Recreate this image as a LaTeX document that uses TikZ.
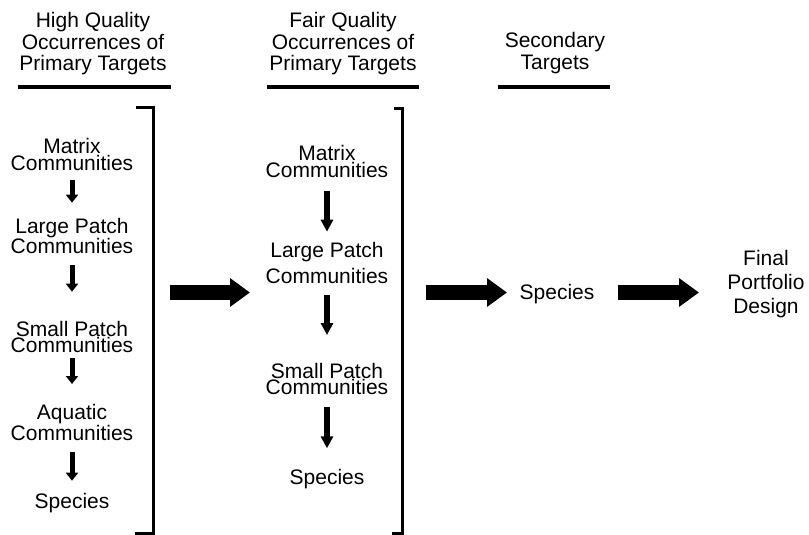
\documentclass[tikz,border=0pt]{standalone}
\usepackage{fontspec}
\setmainfont{Liberation Sans}
\usetikzlibrary{arrows.meta}
\tikzset{
  lbl/.style={inner sep=0pt, align=center},
  uline/.style={line width=3.4pt},
  brk/.style={line width=3.6pt, line join=miter},
  smallarr/.style={line width=5pt, -{Triangle[length=8pt,width=12pt]}},
  midarr/.style={line width=5.5pt, -{Triangle[length=12pt,width=12pt]}},
  bigarr/.style={line width=15pt, -{Triangle[length=20pt,width=27.5pt]}},
}
\newcommand{\fs}[1]{\fontsize{21}{#1}\selectfont}
\begin{document}
\begin{tikzpicture}[x=1pt,y=-1pt]
\useasboundingbox (0,0) rectangle (809,535);
% headings
\node[lbl, font=\fs{21.5}] (h1) at (93,44) {High Quality\\Occurrences of\\Primary Targets};
\node[lbl, font=\fs{21.5}] (h2) at (343,44) {Fair Quality\\Occurrences of\\Primary Targets};
\node[lbl, font=\fs{21.7}] (h3) at (555,52.8) {Secondary\\Targets};
\draw[uline] (18,87) -- (171,87);
\draw[uline] (267,87) -- (419,87);
\draw[uline] (498,87) -- (610,87);
% brackets
\draw[brk] (136,107.5) -- (153.3,107.5) -- (153.3,533.5) -- (135,533.5);
\draw[brk] (394,108.5) -- (402.5,108.5) -- (402.5,533.5) -- (391.5,533.5);
% left column
\node[lbl, font=\fs{16.7}] (L1) at (72,154.3) {Matrix\\Communities};
\node[lbl, font=\fs{16.7}] (L2) at (72,236) {Large Patch\\Communities};
\node[lbl, font=\fs{16.7}] (L3) at (72,337) {Small Patch\\Communities};
\node[lbl, font=\fs{17}] (L4) at (72,422.5) {Aquatic\\Communities};
\node[lbl, font=\fs{21}] (L5) at (72,502.8) {Species};
\draw[smallarr, shorten <=25.7pt, shorten >=33.3pt] (L1.center) -- (L2.center);
\draw[smallarr, shorten <=29pt, shorten >=45.3pt] (L2.center) -- (L3.center);
\draw[smallarr, shorten <=21.3pt, shorten >=38.5pt] (L3.center) -- (L4.center);
\draw[smallarr, shorten <=29.2pt, shorten >=22.1pt] (L4.center) -- (L5.center);
% middle column
\node[lbl, font=\fs{14}] (M1) at (327,161.5) {Matrix\\Communities};
\node[lbl, font=\fs{25.8}] (M2) at (327,263) {Large Patch\\Communities};
\node[lbl, font=\fs{16}] (M3) at (327,379.2) {Small Patch\\Communities};
\node[lbl, font=\fs{21}] (M4) at (327,479.5) {Species};
\draw[midarr, shorten <=29.2pt, shorten >=31.3pt] (M1.center) -- (M2.center);
\draw[midarr, shorten <=32pt, shorten >=44.2pt] (M2.center) -- (M3.center);
\draw[midarr, shorten <=27.5pt, shorten >=31.2pt] (M3.center) -- (M4.center);
% right side
\coordinate (row) at (0,292.5);
\node[lbl, font=\fs{21}] (sp) at (557,294.5) {Species};
\node[lbl, font=\fs{24}] (fin) at (766,284.5) {Final\\Portfolio\\Design};
\draw[bigarr, shorten <=98pt, shorten >=77pt] (row -| L2) -- (row -| M2);
\draw[bigarr, shorten <=99pt, shorten >=50pt] (row -| M2) -- (row -| sp);
\draw[bigarr, shorten <=61pt, shorten >=67pt] (row -| sp) -- (row -| fin);
\end{tikzpicture}
\end{document}
